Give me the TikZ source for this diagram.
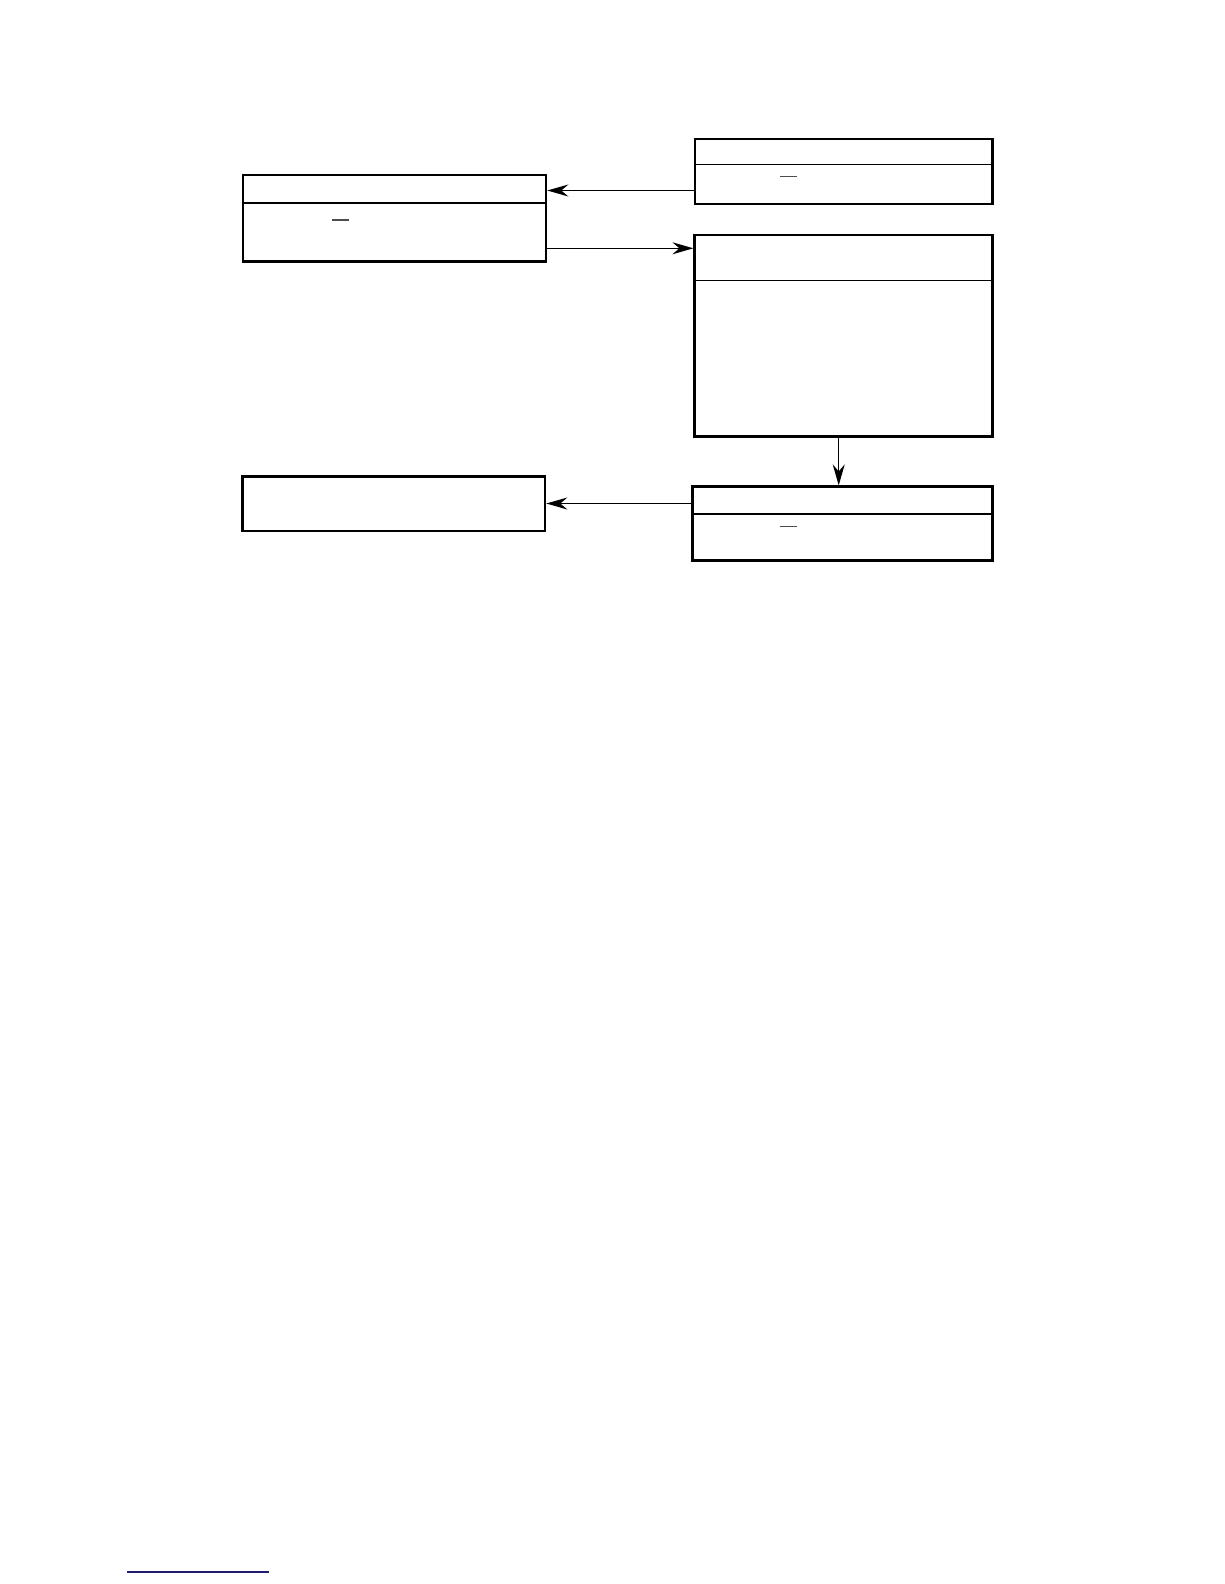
\documentclass[tikz,border=0pt]{standalone}
\usetikzlibrary{arrows.meta}
\definecolor{navy}{RGB}{30,30,110}
\begin{document}
\begin{tikzpicture}[x=1pt,y=-1pt,
  box/.style={draw=black,line width=2.6pt,rectangle,inner sep=0pt,fill=white},
  divline/.style={draw=black,line width=1.6pt},
  bar/.style={draw=black!70,line width=1.1pt},
  arr/.style={draw=black,line width=1.4pt,-{Stealth[length=21pt,width=12pt,inset=7pt]}}]
\useasboundingbox (0,0) rectangle (1224,1584);
% boxes
\node[box,minimum width=303pt,minimum height=86.7pt] (A) at (394.5,218.3) {};
\node[box,minimum width=297.7pt,minimum height=65pt] (B) at (843.85,171.5) {};
\node[box,minimum width=298pt,minimum height=201.3pt] (C) at (843.7,335.65) {};
\node[box,minimum width=300pt,minimum height=73.6pt] (E) at (842.7,523.5) {};
\node[box,minimum width=302.3pt,minimum height=54.3pt] (D) at (393.85,503.85) {};
% dividers
\draw[divline] (A.west |- 0,202.7) -- (A.east |- 0,202.7);
\draw[divline] (B.west |- 0,164.3) -- (B.east |- 0,164.3);
\draw[divline] (C.west |- 0,280.3) -- (C.east |- 0,280.3);
\draw[divline] (E.west |- 0,514) -- (E.east |- 0,514);
% small bars
\coordinate (a1) at (331.7,220); \coordinate (a2) at (349,220);
\draw[bar] (a1) -- (a2);
\coordinate (b1) at (780,176.7); \coordinate (b2) at (796.7,176.7);
\draw[bar] (b1) -- (b2);
\coordinate (e1) at (780,526.7); \coordinate (e2) at (796.7,526.7);
\draw[bar] (e1) -- (e2);
% connectors
\draw[arr] (B.west |- 0,190.5) -- (A.east |- 0,190.5);
\draw[arr] (A.east |- 0,248.3) -- (C.west |- 0,248.3);
\draw[arr] (C.south -| 838.7,0) -- (E.north -| 838.7,0);
\draw[arr] (E.west |- 0,503.5) -- (D.east |- 0,503.5);
% footnote rule
\coordinate (f1) at (127,1572); \coordinate (f2) at (269,1572);
\draw[navy,line width=1.6pt] (f1) -- (f2);
\end{tikzpicture}
\end{document}
